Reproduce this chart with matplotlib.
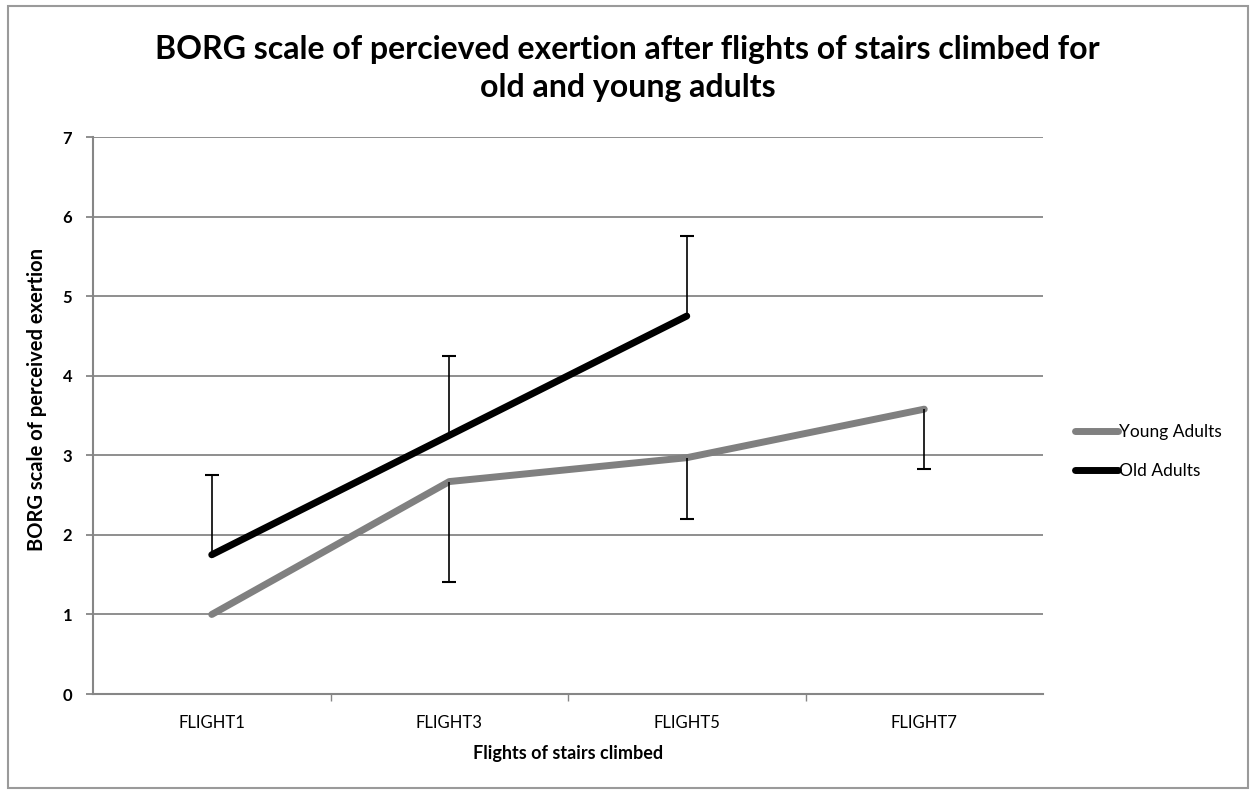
import numpy as np
import matplotlib.pyplot as plt
from matplotlib.patches import Rectangle

plt.rcParams['font.family'] = ['Lato', 'DejaVu Sans']

flights = ['FLIGHT1', 'FLIGHT3', 'FLIGHT5', 'FLIGHT7']
young = [1.0, 2.67, 2.97, 3.58]
young_err_minus = [0.0, 1.26, 0.77, 0.75]
old = [1.75, 3.25, 4.75]
old_err_plus = [1.0, 1.0, 1.0]

grey = '#868686'

fig = plt.figure(figsize=(12.5, 7.92), dpi=100)
ax = fig.add_axes([0.0744, 0.1237, 0.76, 0.7033])

x = np.arange(len(flights))
xo = x[:len(old)]

ax.plot(x, young, color='#808080', lw=5, solid_capstyle='round', label='Young Adults', zorder=3)
ax.plot(xo, old, color='black', lw=5, solid_capstyle='round', label='Old Adults', zorder=3)

# one-sided error bars (Excel style): old -> plus, young -> minus
y_arr = np.array(young)
y_lo = y_arr - np.array(young_err_minus)
has = np.array(young_err_minus) > 0
ax.vlines(x[has], y_lo[has], y_arr[has], color='black', lw=1.2, zorder=4)
ax.plot(x[has], y_lo[has], ls='none', marker='_', ms=10, mew=1.5, color='black', zorder=4)

o_arr = np.array(old)
o_hi = o_arr + np.array(old_err_plus)
ax.vlines(xo, o_arr, o_hi, color='black', lw=1.2, zorder=4)
ax.plot(xo, o_hi, ls='none', marker='_', ms=10, mew=1.5, color='black', zorder=4)

ax.set_xlim(-0.5, 3.5)
ax.set_ylim(0, 7)
ax.set_yticks(range(0, 8))
ax.set_xticks(x)
ax.set_xticklabels(flights, fontsize=12)
ax.set_xticks([0.5, 1.5, 2.5], minor=True)
ax.tick_params(axis='x', which='major', length=0, pad=15)
ax.tick_params(axis='x', which='minor', length=5, direction='out', color=grey, width=1)
ax.tick_params(axis='y', length=5, direction='out', color=grey, width=1.3, labelsize=12, pad=10)
for lab in ax.get_yticklabels():
    lab.set_fontweight('bold')

ax.grid(axis='y', color=grey, lw=1.3)
ax.set_axisbelow(True)
for s in ['top', 'right']:
    ax.spines[s].set_visible(False)
for s in ['left', 'bottom']:
    ax.spines[s].set_color(grey)
    ax.spines[s].set_linewidth(1.5)

ax.set_xlabel('Flights of stairs climbed', fontsize=13, fontweight='bold', labelpad=10)
ax.set_ylabel('BORG scale of perceived exertion', fontsize=14.5, fontweight='bold')
ax.yaxis.set_label_coords(-0.048, 0.528)

fig.text(0.502, 0.937, 'BORG scale of percieved exertion after flights of stairs climbed for',
         ha='center', va='center', fontsize=23, fontweight='bold')
fig.text(0.502, 0.889, 'old and young adults',
         ha='center', va='center', fontsize=23, fontweight='bold')

fig.legend(loc='center left', bbox_to_anchor=(0.853, 0.43), frameon=False, fontsize=12.5,
           handlelength=2.5, handletextpad=0.05, labelspacing=1.35, borderpad=0)

# chart border
fig.patches.append(Rectangle((8 / 1250, 4 / 792), 1240 / 1250, 782 / 792, transform=fig.transFigure,
                             fill=False, edgecolor='#9a9a9a', lw=1.5))

fig.savefig('out.png', dpi=100)
